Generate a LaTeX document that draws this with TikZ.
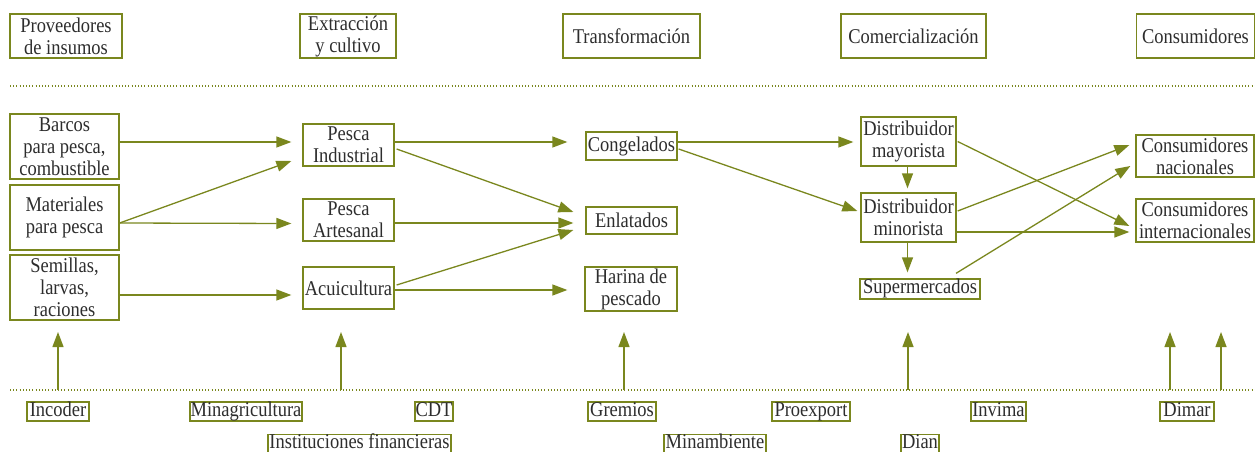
\documentclass[tikz,border=0pt]{standalone}
\usepackage{fontspec}
\setmainfont{Liberation Serif}[FakeStretch=0.88]
\usetikzlibrary{arrows.meta,calc}
\definecolor{oliv}{RGB}{122,135,30}
\definecolor{txt}{RGB}{45,45,45}
\begin{document}
\begin{tikzpicture}[x=1pt,y=-1pt,
  box/.style={draw=oliv,line width=1.3pt,inner sep=0pt,align=center,text=txt,
    font=\fontsize{21}{22}\selectfont},
  lbl/.style={box,minimum height=19pt,text height=13.5pt,text depth=4pt},
  arr/.style={draw=oliv,line width=1.3pt,-{Triangle[length=15pt,width=11pt]}},
  dots/.style={draw=oliv,line width=1.2pt,dash pattern=on 1pt off 2.2pt}]
\useasboundingbox (0,0) rectangle (1255,452);

% headers
\node[box,minimum width=112pt,minimum height=44pt] (hprov) at (66,36) {Proveedores\\de insumos};
\node[box,minimum width=96pt,minimum height=44pt] (hext) at (348,36) {Extracción\\y cultivo};
\node[box,minimum width=137pt,minimum height=44pt] (htra) at (631.5,36) {Transformación};
\node[box,minimum width=145pt,minimum height=44pt] (hcom) at (913.5,36) {Comercialización};
\node[box,minimum width=118pt,minimum height=44pt] (hcon) at (1195.5,36) {Consumidores};

\draw[dots] (10,86) coordinate (d1a) -- (1255,86) coordinate (d1b);
\draw[dots] (10,390) coordinate (d2a) -- (1255,390) coordinate (d2b);

% column 1
\node[box,minimum width=109pt,minimum height=65pt] (barcos) at (64.5,146.5) {Barcos\\para pesca,\\combustible};
\node[box,minimum width=109pt,minimum height=65pt] (mat) at (64.5,217.5) {Materiales\\para pesca};
\node[box,minimum width=109pt,minimum height=65pt] (sem) at (64.5,287.5) {Semillas,\\larvas,\\raciones};

% column 2
\node[box,minimum width=91pt,minimum height=42pt] (pind) at (348.5,145) {Pesca\\Industrial};
\node[box,minimum width=91pt,minimum height=42pt] (part) at (348.5,220) {Pesca\\Artesanal};
\node[box,minimum width=91pt,minimum height=42pt] (acui) at (348.5,288) {Acuicultura};

% column 3
\node[box,minimum width=91pt,minimum height=28pt] (cong) at (631.5,146) {Congelados};
\node[box,minimum width=91pt,minimum height=27pt] (enl) at (631.5,220.5) {Enlatados};
\node[box,minimum width=92pt,minimum height=44pt] (har) at (631,289) {Harina de\\pescado};

% column 4
\node[box,minimum width=95pt,minimum height=49pt] (may) at (908.5,141.5) {Distribuidor\\mayorista};
\node[box,minimum width=95pt,minimum height=49pt] (min) at (908.5,217.5) {Distribuidor\\minorista};
\node[box,minimum width=120pt,minimum height=20pt,text height=13.5pt,text depth=4pt] (sup) at (920,289) {Supermercados};

% column 5
\node[box,minimum width=118pt,minimum height=42pt] (nac) at (1195,156) {Consumidores\\nacionales};
\node[box,minimum width=118pt,minimum height=43pt] (int) at (1195,220.5) {Consumidores\\internacionales};

% arrows
\draw[arr] ([yshift=4.5pt]barcos.east) -- ([xshift=-11pt,yshift=3pt]pind.west);
\draw[arr] ([yshift=-5.5pt]mat.east) -- ([xshift=-11pt,yshift=-16pt]pind.west);
\draw[arr] ([yshift=-5.5pt]mat.east) -- ([xshift=-11pt,yshift=-3.5pt]part.west);
\draw[arr] ([yshift=-7.5pt]sem.east) -- ([xshift=-11pt,yshift=-7pt]acui.west);

\draw[arr] ([yshift=3pt]pind.east) -- ([xshift=-18pt,yshift=4pt]cong.west);
\draw[arr] ([xshift=2pt,yshift=-4pt]pind.east) -- ([xshift=-12pt,yshift=8.5pt]enl.west);
\draw[arr] ([yshift=-3pt]part.east) -- ([xshift=-12pt,yshift=-2.5pt]enl.west);
\draw[arr] ([xshift=2pt,yshift=3pt]acui.east) -- ([xshift=-12pt,yshift=-9.5pt]enl.west);
\draw[arr] ([yshift=-2pt]acui.east) -- ([xshift=-17pt,yshift=-1pt]har.west);

\draw[arr] ([yshift=4pt]cong.east) -- ([xshift=-7pt,yshift=-0.5pt]may.west);
\draw[arr] ([xshift=1pt,yshift=-3pt]cong.east) -- ([xshift=-3pt,yshift=6.5pt]min.west);
\draw[arr] ([xshift=-1pt]may.south) -- ([xshift=-1pt,yshift=4pt]min.north);
\draw[arr] ([xshift=-1pt]min.south) -- ([xshift=-1pt,yshift=6pt]min.south |- sup.north);

\draw[arr] ([xshift=1pt]may.east) -- ([xshift=-6pt,yshift=-5.5pt]int.west);
\draw[arr] ([xshift=1pt,yshift=6.5pt]min.east) -- ([xshift=-6pt,yshift=11pt]nac.west);
\draw[arr] ([yshift=-14.5pt]min.east) -- ([xshift=-6pt,yshift=-11.5pt]int.west);
\draw[arr] ([xshift=36pt,yshift=5pt]sup.north) -- ([xshift=-5pt,yshift=-10pt]nac.west);

% bottom arrows
\foreach \i/\xx in {1/58,2/341,3/624,4/908,5/1170,6/1221}{
  \coordinate (b\i) at (\xx,390);
  \coordinate (t\i) at (\xx,332);
  \draw[arr] (b\i) -- (t\i);
}

% bottom labels
\node[lbl,minimum width=62pt] (incoder) at (58,411.5) {Incoder};
\node[lbl,minimum width=112pt] (minagr) at (246,411.5) {Minagricultura};
\node[lbl,minimum width=38pt] (cdt) at (434,411.5) {CDT};
\node[lbl,minimum width=68pt] (gremios) at (622,411.5) {Gremios};
\node[lbl,minimum width=78pt] (proexport) at (811,411.5) {Proexport};
\node[lbl,minimum width=55pt] (invima) at (998.5,411.5) {Invima};
\node[lbl,minimum width=54pt] (dimar) at (1187,411.5) {Dimar};
\node[lbl,minimum width=183pt] (instfin) at (359.5,444) {Instituciones financieras};
\node[lbl,minimum width=102pt] (minamb) at (715,444) {Minambiente};
\node[lbl,minimum width=38pt] (dian) at (920,444) {Dian};
\end{tikzpicture}
\end{document}
